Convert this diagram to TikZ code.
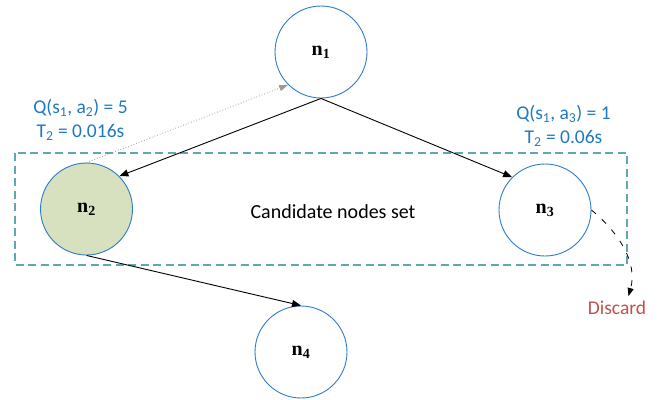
\documentclass[tikz,border=0pt]{standalone}
\usepackage{fontspec}
\setmainfont{Carlito}
\newfontfamily\nodefont{Liberation Serif}
\usetikzlibrary{arrows.meta}
\definecolor{ringblue}{HTML}{2E7BC8}
\definecolor{greenfill}{HTML}{D7E0BF}
\definecolor{setedge}{HTML}{62A6B6}
\definecolor{labelblue}{HTML}{1F78C1}
\definecolor{discardred}{HTML}{C0504D}
\definecolor{hintgray}{HTML}{9A9A9A}
\tikzset{
  treenode/.style={circle, draw=ringblue, line width=0.9pt, minimum size=92pt,
    inner sep=0pt, font=\nodefont\fontsize{20}{22}\selectfont\bfseries},
  edge/.style={draw=black, line width=0.9pt, -{Triangle[length=9pt,width=7pt]}},
  hint/.style={draw=hintgray, line width=0.8pt, dotted,
    -{Triangle[length=9pt,width=6pt]}},
  qlabel/.style={text=labelblue, align=center, inner sep=0pt,
    font=\fontsize{19.5}{23.5}\selectfont},
}
\begin{document}
\begin{tikzpicture}[x=1pt,y=1pt]
\useasboundingbox (0,0) rectangle (661,-399);

% candidate set frame
\draw[setedge, line width=1.1pt, dash pattern=on 8pt off 4.5pt] (15,-153) rectangle (627,-265);
\node (cand) at (333,-212) {\fontsize{20}{22}\selectfont Candidate nodes set};

% tree nodes
\node[treenode] (n1) at (321,-52) {n\textsubscript{1}};
\node[treenode, fill=greenfill] (n2) at (86.5,-209) {n\textsubscript{2}};
\node[treenode] (n3) at (545,-210) {n\textsubscript{3}};
\node[treenode] (n4) at (301,-352) {n\textsubscript{4}};

% Q-values and timings
\node[qlabel] (q2) at (80.5,-120) {Q(s\textsubscript{1}, a\textsubscript{2}) = 5\\T\textsubscript{2} = 0.016s};
\node[qlabel] (q3) at (563.5,-126) {Q(s\textsubscript{1}, a\textsubscript{3}) = 1\\T\textsubscript{2} = 0.06s};

% expansion edges
\draw[edge] (n1.south) -- (n2.north east);
\draw[edge] (n1.south) -- (n3.north west);
\draw[edge] (n2.south) -- (n4.north);
\draw[hint] (n2.north) -- (n1.south west);

% discarded candidate
\node[text=discardred, inner sep=0pt] (discard) at (617,-308) {\fontsize{19.5}{22}\selectfont Discard};
\coordinate (dend) at (628.5,-296);
\draw[line width=0.8pt, dash pattern=on 6pt off 8pt, -{Triangle[length=8pt,width=6pt]}]
  (n3.east) .. controls (618,-232) and (638,-262) .. (dend);
\end{tikzpicture}
\end{document}
